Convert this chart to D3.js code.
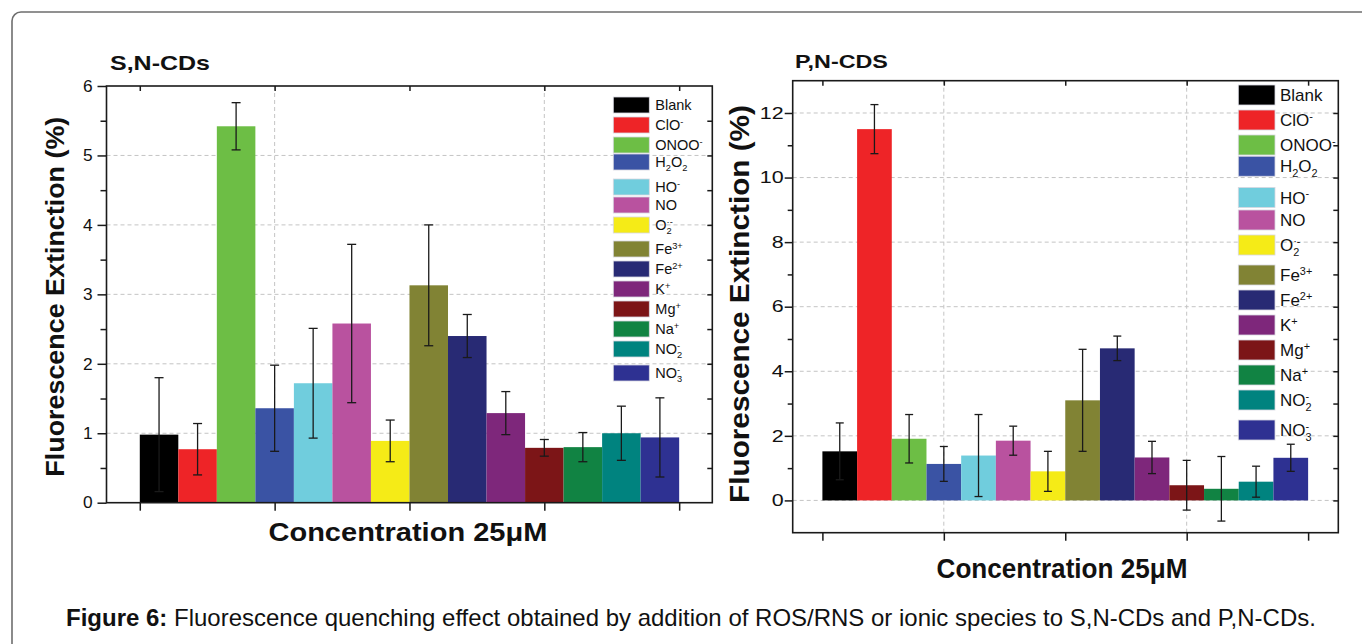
<!DOCTYPE html>
<html><head><meta charset="utf-8">
<script src="https://cdn.jsdelivr.net/npm/d3@7"></script>
<style>
body{margin:0;background:#fff}
svg{display:block}
text{font-family:'Liberation Sans',Arial,Helvetica,sans-serif;fill:#111}
</style>
</head><body>
<svg id="fig" width="1362" height="644"></svg>
<script>
// ---------------- data ----------------
const categories = ["Blank","ClO-","ONOO-","H2O2","HO-","NO","O2·-","Fe3+","Fe2+","K+","Mg+","Na+","NO2-","NO3-"];
const legendLabels = ["Blank","ClO^{-}","ONOO^{-}","H_{2}O_{2}","HO^{-}","NO","O_{2}^{·-}","Fe^{3+}","Fe^{2+}","K^{+}","Mg^{+}","Na^{+}","NO_{2}^{-}","NO_{3}^{-}"];
const barColors = ["#000000","#ee2427","#6dbe45","#3a53a4","#70cddd","#b9529f","#f5eb17","#818334","#282a74","#7e277b","#7c1517","#118343","#00837f","#2e3192"];

const snValues = [0.98,0.77,5.42,1.36,1.72,2.58,0.89,3.13,2.40,1.29,0.79,0.80,1.00,0.94];
const snErrors = [0.82,0.37,0.34,0.62,0.79,1.14,0.30,0.87,0.31,0.31,0.12,0.21,0.39,0.57];
const pnValues = [1.52,11.50,1.91,1.13,1.39,1.85,0.90,3.10,4.71,1.33,0.47,0.36,0.58,1.32];
const pnErrors = [0.88,0.76,0.75,0.54,1.27,0.45,0.62,1.58,0.38,0.50,0.77,1.00,0.48,0.42];

const snYTicks = [0,1,2,3,4,5,6];
const pnYTicks = [0,2,4,6,8,10,12];
const xTickValues = [0,3.5,7,10.5,14];
const xGridValues = [3.5,10.5];

const snTitle = "S,N-CDs";
const pnTitle = "P,N-CDS";
const xTitle = "Concentration 25μM";
const yTitle = "Fluorescence Extinction (%)";
const captionBold = "Figure 6:";
const captionText = " Fluorescence quenching effect obtained by addition of ROS/RNS or ionic species to S,N-CDs and P,N-CDs.";

// legend row layout (in row units)
const legendRowUnits = [0,1,2,2.85,4.1,5,6,7.2,8.2,9.2,10.2,11.2,12.2,13.4];

// ---------------- helpers ----------------
const svg = d3.select('#fig');

function richText(t, str, fs){
  const re = /([_^])\{([^}]*)\}|([^_^]+)/g;
  let m, cur = 0, prevType = null, prevNode = null;
  while((m = re.exec(str))){
    let type, content;
    if(m[3] !== undefined){ type='n'; content=m[3]; }
    else { type = m[1]==='^' ? 'sup' : 'sub'; content = m[2]; }
    const ts = t.append('tspan').text(content);
    let target = 0, size = fs;
    if(type==='sup'){ target = -0.38*fs; size = 0.64*fs; }
    if(type==='sub'){ target = 0.27*fs; size = 0.64*fs; }
    ts.attr('font-size', size).attr('dy', target - cur);
    if((type==='sup' && prevType==='sub') || (type==='sub' && prevType==='sup')){
      ts.attr('dx', -prevNode.getComputedTextLength());
    }
    cur = target; prevType = type; prevNode = ts.node();
  }
}

function fittedText(parent, o){
  const g = parent.append('g').attr('transform', `translate(${o.x},${o.y}) rotate(${o.rotate||0})`);
  const t = g.append('text').attr('text-anchor', o.anchor||'start')
    .attr('font-size', o.size).attr('font-weight', o.weight||'normal');
  if(o.parts){
    o.parts.forEach(p => t.append('tspan').attr('font-weight', p.weight||'normal').text(p.text));
  } else t.text(o.text);
  if(o.target){
    const w = t.node().getComputedTextLength();
    t.attr('transform', `scale(${o.target/w},1)`);
  }
  return t;
}

function drawChart(c){
  const x = d3.scaleLinear().domain(c.xDomain).range([c.left, c.right]);
  const y = d3.scaleLinear().domain(c.yDomain).range([c.bottom, c.top]);
  const g = svg.append('g');

  // grid lines
  g.append('g').selectAll('line').data(c.gridY).join('line')
    .attr('x1', c.left).attr('x2', c.right)
    .attr('y1', d => y(d)).attr('y2', d => y(d))
    .attr('stroke', '#c4c4c4').attr('stroke-width', 1).attr('stroke-dasharray', '4,3');
  g.append('g').selectAll('line').data(xGridValues).join('line')
    .attr('x1', d => x(d)).attr('x2', d => x(d))
    .attr('y1', c.top).attr('y2', c.bottom)
    .attr('stroke', '#c4c4c4').attr('stroke-width', 1).attr('stroke-dasharray', '4,3');

  // bars
  const idx = categories.map((d,i)=>i);
  g.append('g').selectAll('rect').data(idx).join('rect')
    .attr('x', i => x(i)).attr('width', i => x(i+1)-x(i))
    .attr('y', i => y(Math.max(0,c.values[i])))
    .attr('height', i => Math.abs(y(c.values[i]) - y(0)))
    .attr('fill', i => barColors[i]);

  // error bars
  const eb = g.append('g').attr('stroke', '#1a1a1a').attr('stroke-width', 1.3);
  idx.forEach(i => {
    const cx = x(i+0.5);
    const hi = y(c.values[i] + c.errors[i]), lo = y(c.values[i] - c.errors[i]);
    eb.append('line').attr('x1', cx).attr('x2', cx).attr('y1', hi).attr('y2', lo);
    eb.append('line').attr('x1', cx-c.cap).attr('x2', cx+c.cap).attr('y1', hi).attr('y2', hi);
    eb.append('line').attr('x1', cx-c.cap).attr('x2', cx+c.cap).attr('y1', lo).attr('y2', lo);
  });

  // axes
  const axStyle = sel => { sel.select('.domain').remove(); sel.selectAll('line').attr('stroke','#1a1a1a').attr('stroke-width',1.5); };
  g.append('g').attr('transform', `translate(0,${c.bottom})`)
    .call(d3.axisBottom(x).tickValues(xTickValues).tickSize(8).tickFormat('')).call(axStyle);
  g.append('g').attr('transform', `translate(0,${c.top})`)
    .call(d3.axisBottom(x).tickValues(xTickValues).tickSize(5).tickFormat('')).call(axStyle);
  const yl = g.append('g').attr('transform', `translate(${c.left},0)`)
    .call(d3.axisLeft(y).tickValues(c.yTicks).tickSize(c.majorLen).tickPadding(c.tickPad).tickFormat(d3.format('d'))).call(axStyle);
  yl.selectAll('text').attr('font-size', c.tickFont).attr('fill','#111')
    .attr('font-family',"'Liberation Sans',Arial,sans-serif")
    .attr('x', -(c.majorLen + c.tickPad)/c.tickScale)
    .attr('transform', `scale(${c.tickScale},1)`);
  g.append('g').attr('transform', `translate(${c.left},0)`)
    .call(d3.axisLeft(y).tickValues(c.minorTicks).tickSize(c.minorLen).tickFormat('')).call(axStyle);
  g.append('g').attr('transform', `translate(${c.right},0)`)
    .call(d3.axisLeft(y).tickValues(c.rightTicks).tickSize(5).tickFormat('')).call(axStyle);

  // frame
  g.append('rect').attr('x', c.left).attr('y', c.top)
    .attr('width', c.right-c.left).attr('height', c.bottom-c.top)
    .attr('fill','none').attr('stroke','#1a1a1a').attr('stroke-width',1.6);

  // legend
  const lg = g.append('g');
  idx.forEach(i => {
    const cy = c.legY + legendRowUnits[i]*c.legRow;
    lg.append('rect').attr('x', c.legX).attr('y', cy - c.legH/2)
      .attr('width', c.legW).attr('height', c.legH).attr('fill', barColors[i])
      .attr('stroke', '#d8d8e0').attr('stroke-width', 0.8);
    const t = lg.append('text').attr('x', c.legX + c.legW + c.legGap).attr('y', cy + c.legFont*0.36)
      .attr('font-size', c.legFont);
    richText(t, legendLabels[i], c.legFont);
  });

  // titles
  fittedText(svg, {x:c.titleX, y:c.titleY, size:c.titleFont, weight:'bold', text:c.title, target:c.titleW});
  fittedText(svg, {x:(c.left+c.right)/2 + c.xLabOff, y:c.xLabY, anchor:'middle', size:c.xLabFont, weight:'bold', text:xTitle, target:c.xLabW});
  fittedText(svg, {x:c.yLabX, y:c.yLabY, rotate:-90, anchor:'middle', size:c.yLabFont, weight:'bold', text:yTitle, target:c.yLabW});
}

// outer frame
svg.append('rect').attr('x',12).attr('y',12).attr('width',1400).attr('height',700)
  .attr('rx',9).attr('fill','none').attr('stroke','#6e6e6e').attr('stroke-width',1.6);

drawChart({
  values: snValues, errors: snErrors,
  left:106.5, right:712.3, top:86, bottom:502.7,
  xDomain:[-0.864,14.86], yDomain:[0,6],
  yTicks: snYTicks, minorTicks: d3.range(0.5,6,1), rightTicks: d3.range(0.5,6,0.5),
  gridY:[1,2,3,4,5], majorLen:9, minorLen:6, tickFont:16.5, tickPad:5, tickScale:1.05, cap:4.5,
  legX:613.3, legY:105, legRow:20, legW:36, legH:16, legGap:6, legFont:14.5,
  title: snTitle, titleX:110, titleY:70, titleFont:21, titleW:100,
  xLabOff:-1.5, xLabY:540.7, xLabFont:25, xLabW:279,
  yLabX:63.5, yLabY:296.7, yLabFont:26, yLabW:360
});

drawChart({
  values: pnValues, errors: pnErrors,
  left:792.7, right:1338.3, top:80.7, bottom:532.7,
  xDomain:[-0.856,14.87], yDomain:[-1,13],
  yTicks: pnYTicks, minorTicks: [1,3,5,7,9,11], rightTicks: d3.range(0,13,1),
  gridY:[0,2,4,6,8,10,12], majorLen:8, minorLen:5, tickFont:16.5, tickPad:1, tickScale:1.3, cap:4,
  legX:1238.3, legY:95, legRow:25, legW:36.7, legH:20, legGap:5, legFont:17,
  title: pnTitle, titleX:795, titleY:68.3, titleFont:19, titleW:93,
  xLabOff:-3.5, xLabY:578.3, xLabFont:27, xLabW:251,
  yLabX:748.5, yLabY:304, yLabFont:27, yLabW:398
});

// caption
fittedText(svg, {x:66, y:626, size:23, parts:[{text:captionBold, weight:'bold'},{text:captionText}], target:1250});
</script>
</body></html>
